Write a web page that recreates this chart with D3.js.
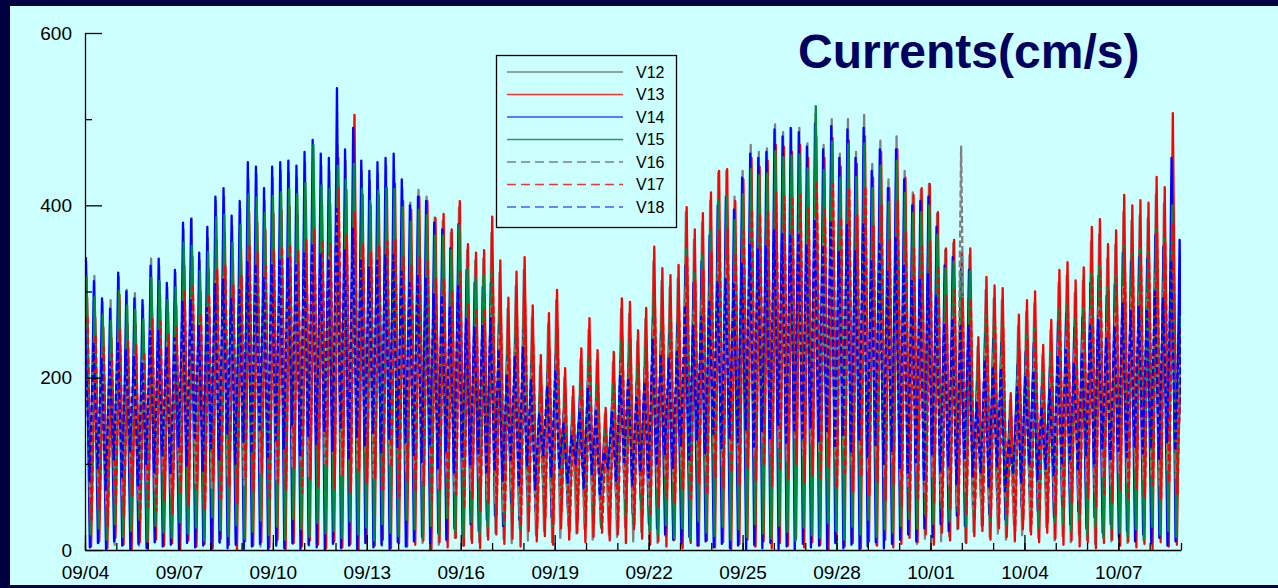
<!DOCTYPE html>
<html><head><meta charset="utf-8">
<script src="https://cdn.jsdelivr.net/npm/d3@7"></script>
<style>html,body{margin:0;padding:0;background:#000040;}svg{display:block;}</style>
</head><body>
<svg id="c" width="1278" height="588"></svg>
<script>
// ---------- DATA (peak and trough of each half tidal cycle, cm/s) ----------
const seriesNames = ["V12","V13","V14","V15","V16","V17","V18"];
const yTickValues = [0,200,400,600];
const yMinorValues = [100,300,500];
const startDate = "2000-09-04", endDate = "2000-10-09";
const halfCycleHours = 6.21;               // spacing between successive speed peaks
const startOffsetHours = [1.0,1.6,0.6,1.2,0.8,1.9,0.3];

const peaksV12 = [335,318,288,290,317,302,298,284,338,330,305,322,372,385,336,362,405,410,376,396,430,436,405,432,440,438,432,450,458,446,440,470,452,478,440,428,437,446,441,420,403,418,410,386,382,368,398,348,336,338,368,322,280,306,325,270,214,262,290,200,178,222,256,220,158,218,280,274,242,268,335,312,305,315,392,360,380,405,438,440,410,440,470,462,466,494,485,488,490,472,506,470,500,460,500,462,505,448,475,430,480,440,415,418,425,390,348,356,340,342,236,302,292,290,174,260,276,286,226,255,310,318,298,313,358,366,338,354,392,382,388,385,412,402,420,280];
const peaksV13 = [294,270,258,246,296,262,262,248,290,296,276,284,330,340,300,326,360,368,338,350,392,380,372,390,394,398,388,404,418,402,402,455,418,505,412,400,412,420,425,405,395,410,405,385,390,372,405,355,345,348,387,336,293,323,340,284,226,275,302,211,190,234,269,232,165,230,292,288,255,281,352,327,319,331,398,372,391,415,440,442,405,430,455,445,452,470,468,462,470,455,480,455,478,445,475,448,480,432,462,420,465,432,412,420,425,392,350,360,345,350,247,317,307,304,182,273,290,300,238,267,325,334,313,328,375,384,355,371,412,400,406,403,433,421,507,310];
const peaksV14 = [340,312,292,280,322,300,292,290,330,338,310,325,380,384,345,375,410,420,388,405,450,445,420,445,450,452,446,462,476,460,455,536,465,490,452,440,450,455,460,430,400,410,405,380,372,350,378,325,310,305,310,262,225,245,255,215,170,205,225,160,145,178,200,175,130,175,220,215,195,212,270,252,250,262,330,310,335,365,400,410,395,432,460,455,462,488,480,490,485,468,495,465,492,455,488,455,490,440,465,420,465,430,400,405,410,375,330,340,325,325,195,250,245,240,150,215,230,240,190,212,265,275,258,270,310,318,295,308,345,335,340,338,365,352,455,360];
const peaksV15 = [318,294,273,266,301,284,279,268,316,312,290,305,357,353,324,346,386,389,357,377,413,409,391,411,415,419,413,426,470,423,419,446,430,448,419,405,417,420,419,398,381,395,389,365,365,348,377,327,316,319,326,281,246,270,284,237,190,231,253,177,160,195,225,193,140,193,244,242,214,236,296,275,270,279,349,321,342,370,405,411,383,413,442,435,437,463,456,458,459,443,515,441,474,432,471,433,472,420,446,404,452,414,391,392,400,366,327,335,324,324,212,272,262,260,156,234,249,257,205,229,279,286,268,281,321,330,305,318,353,344,349,346,372,361,400,270];
const peaksV16 = [255,240,225,215,245,230,228,220,258,250,240,245,290,292,262,282,312,318,292,305,335,330,318,332,338,340,332,345,355,342,340,395,350,372,338,330,338,342,340,322,312,320,315,298,296,285,305,268,260,262,285,250,218,240,252,210,168,205,225,158,142,175,200,172,125,172,218,214,190,210,262,242,238,245,305,278,290,308,332,335,310,332,355,350,352,372,368,368,370,356,385,355,380,347,378,348,380,338,358,324,362,332,313,315,320,295,264,270,468,260,183,235,228,225,135,202,215,222,176,198,240,248,232,243,278,284,263,275,305,296,300,298,320,312,330,222];
const peaksV17 = [270,250,235,228,255,242,238,230,268,265,250,258,300,305,275,296,325,330,308,318,352,345,330,348,352,355,348,360,372,360,355,420,365,392,355,345,352,358,360,340,330,340,335,315,315,302,325,285,278,280,325,285,250,275,290,240,192,234,256,180,162,200,228,198,140,196,248,245,218,240,300,278,272,282,340,312,325,345,370,372,345,370,395,390,392,415,410,410,412,398,428,395,425,386,420,388,422,376,400,360,405,370,350,352,358,330,295,302,292,292,210,268,260,258,155,232,246,255,202,227,275,285,266,278,318,326,302,315,350,340,345,342,368,358,380,260];
const peaksV18 = [255,241,222,218,242,232,225,218,254,254,236,246,288,290,260,281,310,314,291,302,334,332,316,332,336,338,333,344,356,343,338,396,348,373,338,328,336,342,342,323,310,320,316,297,296,283,306,268,259,260,269,233,204,224,235,197,157,190,209,147,132,162,187,161,114,160,203,200,177,195,244,227,222,230,284,260,271,288,311,314,309,332,354,349,352,372,367,367,368,355,384,354,380,346,377,347,380,337,358,323,362,332,312,315,320,295,263,269,260,260,171,221,213,211,127,189,202,208,166,186,226,232,217,227,260,267,246,258,286,278,282,280,300,292,336,269];

const troughsV12 = [12,8,15,6,18,10,5,14,9,20,7,12,16,5,11,19,8,13,6,17,10,4,15,9,12,7,18,5,14,10,8,16,6,12,20,9,5,13,11,7,15,8,18,6,10,14,5,12,9,16,20,13,8,25,11,17,22,9,14,28,19,24,12,30,18,15,26,10,21,13,8,16,11,5,14,9,18,6,12,10,7,15,4,11,8,13,6,17,9,12,5,14,10,7,16,8,12,6,15,9,11,18,7,13,20,10,16,24,9,21,28,15,19,12,30,17,22,14,26,11,16,9,18,12,7,15,10,13,8,17,11,6,14,9,12,20];
const troughsV13 = [4,10,2,14,6,0,9,3,12,5,8,1,11,4,7,2,13,6,0,10,5,9,3,12,1,8,4,11,6,2,10,3,7,0,9,5,12,2,8,4,6,11,1,9,3,14,5,8,2,12,18,7,13,4,22,10,16,6,25,12,20,9,15,28,11,18,8,24,13,6,10,4,12,2,8,5,11,3,9,1,7,12,4,10,2,8,5,13,3,9,6,0,11,4,8,2,10,5,12,3,7,14,9,18,6,20,11,25,8,16,22,12,28,15,10,24,18,9,20,13,6,11,4,9,2,8,12,5,10,3,7,1,9,4,6,2];
const troughsV14 = [3,8,1,10,5,0,7,2,9,4,6,1,8,3,5,0,9,2,6,1,4,7,0,5,2,8,1,6,3,0,7,2,5,0,8,3,6,1,9,4,10,15,8,20,12,25,18,30,22,35,40,28,55,35,62,45,70,38,75,50,85,60,72,48,90,55,66,42,58,30,25,18,12,8,15,5,10,3,7,2,5,0,6,2,8,1,4,0,7,3,5,1,8,2,6,0,4,9,2,7,12,18,10,25,15,30,22,40,28,48,60,42,55,35,80,50,65,45,72,38,52,30,45,25,38,20,30,15,22,10,18,8,14,5,10,3];
const troughsV15 = [18,25,12,30,15,22,35,10,28,20,14,32,19,26,11,38,23,16,29,13,21,34,17,27,12,36,24,15,31,19,22,14,33,18,26,11,30,20,16,35,24,13,28,17,37,21,15,32,19,27,40,30,45,25,50,35,42,28,55,38,48,32,44,26,52,36,40,30,46,22,18,29,14,25,11,33,20,16,27,12,24,15,30,19,13,28,21,10,26,17,14,31,22,12,27,18,35,15,24,20,28,36,25,42,30,48,33,45,27,38,50,34,46,29,55,37,41,26,48,32,30,22,35,18,28,14,25,20,16,24,12,27,18,22,15,26];
const troughsV16 = [60,75,52,88,64,95,58,80,70,92,66,85,110,78,98,72,115,84,102,76,120,90,108,82,118,95,104,86,125,98,112,88,130,96,114,84,122,100,108,90,95,80,102,72,88,65,92,70,84,60,55,45,68,40,58,35,62,48,52,38,45,32,56,42,50,36,60,44,66,50,72,85,78,95,88,105,92,110,98,115,102,120,108,125,112,118,104,130,110,122,115,128,106,120,98,116,92,108,86,100,80,72,90,65,85,58,75,52,68,48,42,55,38,60,35,50,45,62,48,56,65,72,58,80,68,85,74,90,78,95,82,88,76,92,84,70];
const troughsV17 = [35,48,28,55,40,62,33,50,45,58,42,65,52,72,48,80,60,75,55,85,68,90,62,78,70,95,66,82,74,100,72,88,65,92,78,84,70,96,62,80,68,75,58,70,52,64,48,60,45,55,40,32,48,28,42,25,38,30,45,22,35,28,40,20,32,26,44,30,38,42,50,62,55,70,60,78,65,85,72,90,76,95,80,98,74,92,82,100,78,88,84,96,72,90,68,85,64,80,58,75,52,45,60,38,55,32,48,40,42,35,28,38,25,42,22,35,30,45,32,40,48,55,42,60,50,65,55,70,58,72,62,75,60,78,65,55];
const troughsV18 = [80,95,70,105,85,115,75,100,90,110,88,120,98,130,92,118,105,135,100,125,112,140,108,128,118,145,110,132,122,138,115,142,105,130,120,136,112,128,118,125,110,102,120,95,115,90,108,98,112,88,92,80,105,75,98,70,110,85,95,78,100,72,88,65,95,80,102,76,90,84,98,110,95,120,105,128,112,135,118,130,125,140,120,138,128,145,122,136,130,142,126,138,118,132,112,128,108,122,100,115,95,88,102,80,110,92,98,76,105,85,90,72,96,68,88,78,100,82,94,86,98,105,92,110,100,118,104,115,108,120,112,118,106,125,115,95];

const peaks = [peaksV12,peaksV13,peaksV14,peaksV15,peaksV16,peaksV17,peaksV18];
const troughs = [troughsV12,troughsV13,troughsV14,troughsV15,troughsV16,troughsV17,troughsV18];

// ---------- STYLE ----------
const colors = ["#808080","#ff0000","#0000ff","#008c3a","#808080","#ff0000","#0000ff"];
const legendColors = ["#808080","#ff3030","#3050ff","#20a050","#808080","#ff3030","#4060ff"];
const dashed = [false,false,false,false,true,true,true];
const FONT = "'Liberation Sans', Arial, Helvetica, sans-serif";

const svg = d3.select("#c");
svg.append("rect").attr("x",0).attr("y",0).attr("width",1278).attr("height",588).attr("fill","#000040");
svg.append("rect").attr("x",10).attr("y",6).attr("width",1268).attr("height",579).attr("fill","#ccffff");

const x = d3.scaleUtc().domain([new Date(startDate+"T00:00:00Z"), new Date(endDate+"T00:00:00Z")]).range([85,1181]);
const y = d3.scaleLinear().domain([0,600]).range([550,33]);

svg.append("defs").append("clipPath").attr("id","clip")
  .append("rect").attr("x",85).attr("y",0).attr("width",1181-85).attr("height",551);

const t0 = new Date(startDate+"T00:00:00Z").getTime();
const series = seriesNames.map((name,k)=>{
  const pts = [];
  for(let i=0;i<peaks[k].length;i++){
    const tp = t0 + (startOffsetHours[k] + i*halfCycleHours)*3600e3;
    const tt = t0 + (startOffsetHours[k] + (i+0.5)*halfCycleHours)*3600e3;
    pts.push({t:new Date(tp), v:peaks[k][i]});
    pts.push({t:new Date(tt), v:troughs[k][i]});
  }
  return {name, pts, color:colors[k], dashed:dashed[k]};
});

const line = d3.line().x(d=>x(d.t)).y(d=>y(d.v));
const g = svg.append("g").attr("clip-path","url(#clip)");
series.forEach(s=>{
  g.append("path").attr("d",line(s.pts)).attr("fill","none")
    .attr("stroke",s.color).attr("stroke-width",2.3)
    .attr("stroke-dasharray",s.dashed?"7,3":null)
    .attr("stroke-linejoin","round");
});

// ---------- AXES ----------
const yAxis = d3.axisLeft(y).tickValues(yTickValues).tickSizeInner(-17).tickSizeOuter(0).tickPadding(13);
const ya = svg.append("g").attr("transform","translate(85,0)").call(yAxis);
const yMinor = d3.axisLeft(y).tickValues(yMinorValues).tickSizeInner(-7).tickSizeOuter(0).tickFormat("");
const ym = svg.append("g").attr("transform","translate(85,0)").call(yMinor);
ym.select(".domain").remove();

const xAxis = d3.axisBottom(x).ticks(d3.utcDay.every(3)).tickFormat(d3.utcFormat("%m/%d"))
  .tickSizeInner(-15).tickSizeOuter(0).tickPadding(16);
const xa = svg.append("g").attr("transform","translate(0,550)").call(xAxis);
const xMinor = d3.axisBottom(x).ticks(d3.utcDay.every(1)).tickSizeInner(-7).tickSizeOuter(0).tickFormat("");
const xm = svg.append("g").attr("transform","translate(0,550)").call(xMinor);
xm.select(".domain").remove();

[ya,ym,xa,xm].forEach(a=>{
  a.selectAll("line").attr("stroke","#000").attr("stroke-width",1.3);
  a.selectAll(".domain").attr("stroke","#000").attr("stroke-width",1.3);
  a.selectAll("text").attr("font-family",FONT).attr("font-size","19px").attr("fill","#000");
});

// ---------- TITLE ----------
svg.append("text").attr("x",798).attr("y",68).text("Currents(cm/s)")
  .attr("font-family",FONT).attr("font-weight","bold").attr("font-size","48px").attr("fill","#000060");

// ---------- LEGEND ----------
const lg = svg.append("g");
lg.append("rect").attr("x",496.5).attr("y",55.5).attr("width",180).attr("height",172)
  .attr("fill","#ccffff").attr("stroke","#000").attr("stroke-width",1.3);
seriesNames.forEach((n,k)=>{
  const yy = 72 + k*22.5;
  lg.append("line").attr("x1",507).attr("x2",623).attr("y1",yy).attr("y2",yy)
    .attr("stroke",legendColors[k]).attr("stroke-width",1.5)
    .attr("stroke-dasharray",dashed[k]?"9,5":null);
  lg.append("text").attr("x",636).attr("y",yy).attr("dy","0.36em").text(n)
    .attr("font-family",FONT).attr("font-size","16px").attr("fill","#000");
});
</script>
</body></html>
